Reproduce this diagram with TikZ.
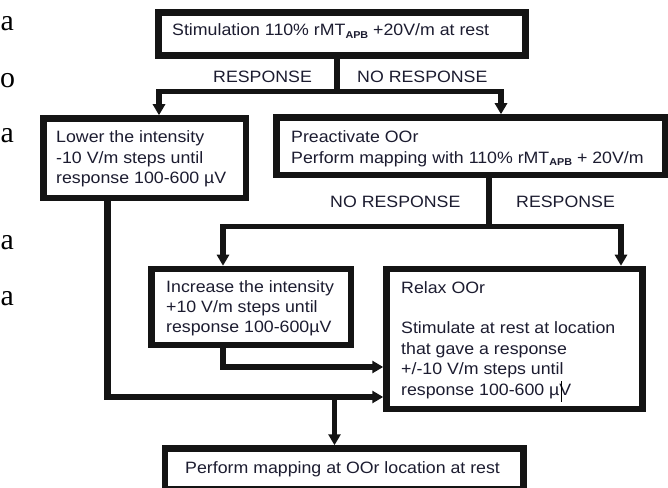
\documentclass[tikz,border=0pt]{standalone}
\usepackage{fontspec}
\setmainfont{Liberation Sans}[FakeStretch=1.08]
\newfontfamily\serifletters{Liberation Serif}
\usetikzlibrary{arrows.meta}
\definecolor{ink}{RGB}{28,28,48}
\definecolor{linec}{RGB}{20,20,20}
\newcommand{\apb}{\raisebox{-2.5bp}{\fontsize{10}{10}\selectfont\bfseries APB}}
\newcommand{\txtlines}[1]{\parbox[t]{400bp}{\raggedright #1}}
\begin{document}
\begin{tikzpicture}[x=1bp,y=-1bp,
  box/.style={draw=linec, line width=6.5bp, fill=white, inner sep=0pt, rectangle},
  conn/.style={draw=linec, line width=5.5bp},
  arr/.style={-{Triangle[length=11bp,width=12bp]}},
  txt/.style={anchor=base west, inner sep=0pt, text=ink, font=\fontsize{16.5}{20.5}\selectfont},
  serifl/.style={anchor=base west, inner sep=0pt, text=black, font=\serifletters\fontsize{30}{30}\selectfont}]
\useasboundingbox (0,0) rectangle (668,488);

% serif letters from the page margin
\node[serifl] (e1) at (0.5,31) {a};
\node[serifl] (e2) at (0,88) {o};
\node[serifl] (e3) at (0.5,143) {a};
\node[serifl] (e4) at (0.5,250) {a};
\node[serifl] (e5) at (0.5,305) {a};

% boxes
\node[box, minimum width=367bp, minimum height=43bp] (top) at (342,34) {};
\node[box, minimum width=202.5bp, minimum height=79.5bp] (lower) at (144.75,158.25) {};
\node[box, minimum width=389bp, minimum height=57.5bp] (pre) at (471,146.25) {};
\node[box, minimum width=199.5bp, minimum height=76bp] (inc) at (251.25,307) {};
\node[box, minimum width=256bp, minimum height=140bp] (relax) at (514.5,339) {};
\node[box, minimum width=358.5bp, minimum height=41bp] (bot) at (344.25,469) {};

% helper coordinates
\coordinate (s1) at (337,91.5);
\coordinate (xl) at (159,0);
\coordinate (xp) at (501,0);
\coordinate (s2) at (489,226.5);
\coordinate (xi) at (223,0);
\coordinate (xr) at (621,0);
\coordinate (y1) at (0,367);
\coordinate (xo) at (107.5,0);
\coordinate (y2) at (0,397);
\coordinate (s3) at (334.5,397);

% connectors
\draw[conn] (top.south -| s1) -- (s1);
\draw[conn,arr] (s1) -| (xl |- lower.north);
\draw[conn,arr] (s1) -| (xp |- pre.north);
\draw[conn] (pre.south -| s2) -- (s2);
\draw[conn,arr] (s2) -| (xi |- inc.north);
\draw[conn,arr] (s2) -| (xr |- relax.north);
\draw[conn,arr] (xi |- inc.south) |- (relax.west |- y1);
\draw[conn,line width=7bp] (xo |- lower.south) -- (xo |- y2);
\draw[conn,arr] ([xshift=-3.5bp]xo |- y2) -- (relax.west |- y2);
\draw[conn,arr] (s3) -- (s3 |- bot.north);

% texts
\node[txt] (t1) at (172,36) {Stimulation 110\% rMT\apb{} +20V/m at rest};
\node[txt] (r1) at (213,83) {RESPONSE};
\node[txt] (n1) at (357,83) {NO RESPONSE};
\node[txt] (t2) at (56,143) {\txtlines{Lower the intensity\\-10 V/m steps until\\response 100-600 µV}};
\node[txt] (t3) at (291,143) {\txtlines{Preactivate OOr\\Perform mapping with 110\% rMT\apb{} + 20V/m}};
\node[txt] (n2) at (330,208) {NO RESPONSE};
\node[txt] (r2) at (516,208) {RESPONSE};
\node[txt] (t4) at (166,292) {\txtlines{Increase the intensity\\+10 V/m steps until\\response 100-600µV}};
\node[txt] (t5) at (401,293) {\txtlines{Relax OOr\\[20.5bp]Stimulate at rest at location\\that gave a response\\+/-10 V/m steps until\\response 100-600 µV}};
\node[txt] (t6) at (185,473) {Perform mapping at OOr location at rest};

% text cursor mark
\draw[line width=0.8bp, black] (561,381) -- (561,402);
\end{tikzpicture}
\end{document}
